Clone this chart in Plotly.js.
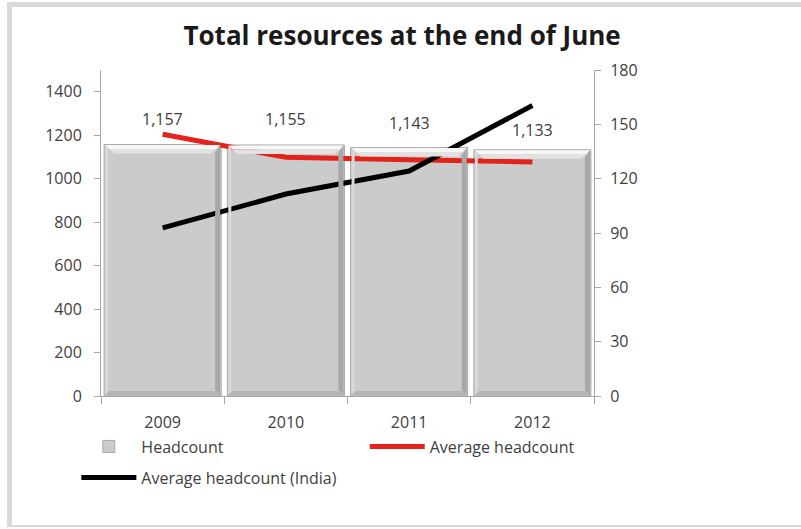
<!DOCTYPE html>
<html>
<head>
<meta charset="utf-8">
<script src="https://cdn.plot.ly/plotly-3.0.1.min.js"></script>
<style>
  html, body { margin: 0; padding: 0; background: #ffffff; }
  #chart { position: absolute; left: 0; top: 0; width: 801px; height: 529px; }
  #frame { position: absolute; left: 7px; top: 2px; width: 794px; height: 525px;
           box-sizing: border-box; border-left: 5px solid #d9d9d9; border-top: 5px solid #d9d9d9;
           border-bottom: 2px solid #d9d9d9; pointer-events: none; }
</style>
</head>
<body>
<div id="chart"></div>
<div id="frame"></div>
<script>
const years = ['2009', '2010', '2011', '2012'];
const headcount = [1157, 1155, 1143, 1133];
const headcountLabels = ['1,157', '1,155', '1,143', '1,133'];
const avgHeadcount = [144.5, 131.8, 130.4, 129.2];
const avgHeadcountIndia = [92.8, 111.5, 124.2, 160.4];
const leftTicks = [0, 200, 400, 600, 800, 1000, 1200, 1400];
const rightTicks = [0, 30, 60, 90, 120, 150, 180];

const W = 801, H = 529;
const M = {l: 101, r: 207, t: 70, b: 133};
const bargap = 0.05;
const plotW = W - M.l - M.r;
const plotH = H - M.t - M.b;
const LEFT_MAX = 1500;
const catPx = plotW / years.length;
const barPx = catPx * (1 - bargap);
const halfBar = (1 - bargap) / 2;
const labelLift = [13, 13, 12, 7];
const FONT = '"Open Sans", "DejaVu Sans", sans-serif';
const TXT = '#404040';
const AX = '#a6a6a6';

// category positions on a linear axis
const xi = years.map((_, i) => i);
const boundaries = years.map((_, i) => i - 0.5).concat([years.length - 0.5]);

const traces = [
  {
    type: 'bar', name: 'Headcount', x: xi, y: headcount,
    marker: {color: '#cbcbcb', line: {color: '#a9a9a9', width: 1}},
    legend: 'legend'
  },
  {
    type: 'scatter', mode: 'lines', name: 'Average headcount', x: xi, y: avgHeadcount,
    yaxis: 'y2', line: {color: '#e3231b', width: 5},
    legend: 'legend2'
  },
  {
    type: 'scatter', mode: 'lines', name: 'Average headcount (India)', x: xi, y: avgHeadcountIndia,
    yaxis: 'y2', line: {color: '#000000', width: 5},
    legend: 'legend3'
  }
];

// bevel decoration derived from bar data
const shapes = [];
headcount.forEach((v, i) => {
  const bevel = 9;
  const hPx = v * plotH / LEFT_MAX;
  const common = {type: 'path', xref: 'x', yref: 'y', xsizemode: 'pixel', ysizemode: 'pixel',
                  xanchor: xi[i] - halfBar, line: {width: 0}, layer: 'above'};
  // top bevel: two-step light gradient
  shapes.push(Object.assign({}, common, {
    yanchor: v,
    path: `M1,-0.5 L${barPx - 1},-0.5 L${barPx - 5},-4.5 L5,-4.5 Z`,
    fillcolor: '#f7f7f7'
  }));
  shapes.push(Object.assign({}, common, {
    yanchor: v,
    path: `M5,-4.5 L${barPx - 5},-4.5 L${barPx - 1 - bevel},${-bevel} L${1 + bevel},${-bevel} Z`,
    fillcolor: '#e2e2e2'
  }));
  // right shaded edge
  shapes.push(Object.assign({}, common, {
    yanchor: v,
    path: `M${barPx - 1},-0.5 L${barPx - 1},${-hPx + 1} L${barPx - 6},${-hPx + 6} L${barPx - 6},${-bevel + 1} Z`,
    fillcolor: '#a8a8a8'
  }));
  // bottom shaded edge
  shapes.push(Object.assign({}, common, {
    yanchor: 0,
    path: `M1,1 L${barPx - 1},1 L${barPx - 6},5 L5,5 Z`,
    fillcolor: '#b5b5b5'
  }));
  // left soft edge
  shapes.push(Object.assign({}, common, {
    yanchor: v,
    path: `M1,-0.5 L4,-4 L4,${-hPx + 5} L1,${-hPx + 1} Z`,
    fillcolor: '#d9d9d9'
  }));
});

const annotations = headcount.map((v, i) => ({
  x: xi[i], y: v, xref: 'x', yref: 'y', text: headcountLabels[i],
  showarrow: false, yanchor: 'bottom', yshift: labelLift[i],
  font: {family: FONT, size: 16, color: TXT}
}));

const legendBase = {
  orientation: 'h', xanchor: 'left', yanchor: 'middle', itemwidth: 55,
  font: {family: FONT, size: 16, color: TXT}, bgcolor: 'rgba(0,0,0,0)',
  xref: 'paper', yref: 'paper'
};

const layout = {
  width: W, height: H,
  margin: M,
  paper_bgcolor: '#ffffff', plot_bgcolor: '#ffffff',
  font: {family: FONT, size: 16, color: TXT},
  title: {
    text: '<b>Total resources at the end of June</b>',
    x: 0.502, xref: 'container', xanchor: 'center',
    y: 0.932, yref: 'container', yanchor: 'middle',
    font: {family: FONT, size: 26, color: '#1a1a1a'}
  },
  bargap: bargap,
  showlegend: true,
  xaxis: {
    range: [-0.5, years.length - 0.5], tickvals: xi, ticktext: years,
    showline: true, linecolor: AX, linewidth: 1, ticks: '', showgrid: false, zeroline: false,
    minor: {tickvals: boundaries, ticks: 'outside', ticklen: 7, tickcolor: AX, showgrid: false},
    ticklabelstandoff: 12,
    tickfont: {family: FONT, size: 16, color: TXT}
  },
  yaxis: {
    range: [0, LEFT_MAX], tickvals: leftTicks, showline: true, linecolor: AX, linewidth: 1,
    ticks: 'outside', ticklen: 6, tickcolor: AX, showgrid: false, zeroline: false,
    ticklabelstandoff: 9,
    tickfont: {family: FONT, size: 16, color: TXT}
  },
  yaxis2: {
    range: [0, 180], tickvals: rightTicks, overlaying: 'y', side: 'right',
    showline: true, linecolor: AX, linewidth: 1,
    ticks: 'outside', ticklen: 6, tickcolor: AX, showgrid: false, zeroline: false,
    ticklabelstandoff: 6,
    tickfont: {family: FONT, size: 16, color: TXT}
  },
  legend: Object.assign({}, legendBase, {x: -0.05, y: -0.155}),
  legend2: Object.assign({}, legendBase, {x: 0.535, y: -0.155}),
  legend3: Object.assign({}, legendBase, {x: -0.05, y: -0.25}),
  shapes: shapes,
  annotations: annotations
};

Plotly.newPlot('chart', traces, layout, {displayModeBar: false, staticPlot: true});
</script>
</body>
</html>
